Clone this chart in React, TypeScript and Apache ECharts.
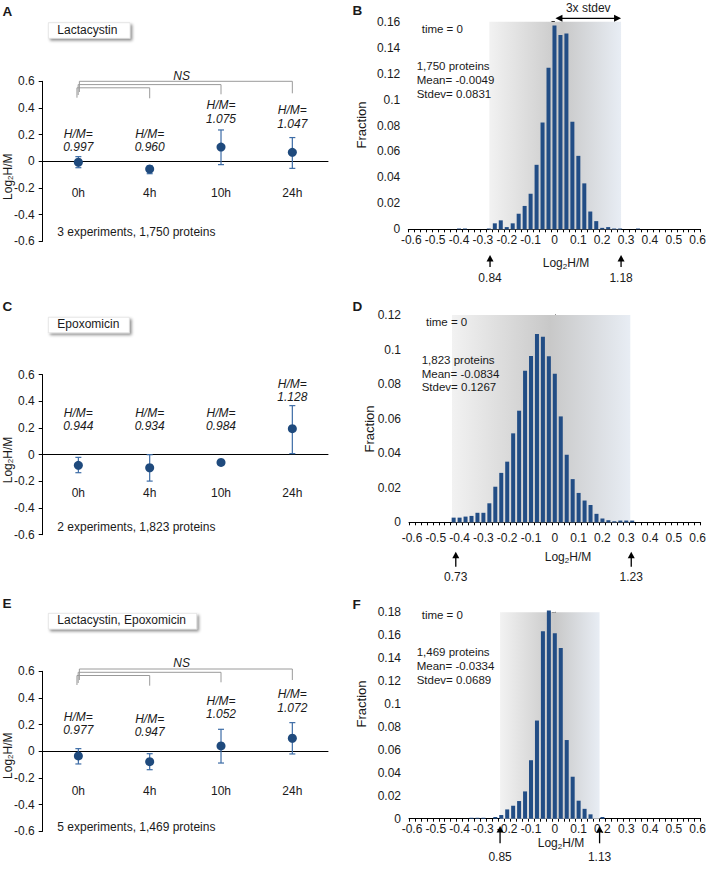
import React, { useEffect, useRef } from "react";
import * as echarts from "echarts";

// ---------- data ----------
const timeCategories = ["0h", "4h", "10h", "24h"];

// Panel A – Lactacystin
const lactMeans = [-0.007, -0.058, 0.107, 0.067];
const lactLow = [-0.048, -0.093, -0.025, -0.053];
const lactHigh = [0.035, -0.033, 0.235, 0.178];
const lactRatios = ["0.997", "0.960", "1.075", "1.047"];

// Panel C – Epoxomicin
const epoxMeans = [-0.08, -0.098, -0.058, 0.195];
const epoxLow = [-0.135, -0.198, -0.066, 0.008];
const epoxHigh = [-0.02, 0.0, -0.05, 0.368];
const epoxRatios = ["0.944", "0.934", "0.984", "1.128"];

// Panel E – Lactacystin, Epoxomicin
const bothMeans = [-0.035, -0.078, 0.04, 0.098];
const bothLow = [-0.095, -0.138, -0.088, -0.02];
const bothHigh = [0.02, -0.018, 0.165, 0.215];
const bothRatios = ["0.977", "0.947", "1.052", "1.072"];

const yTicksLeft = ["-0.6", "-0.4", "-0.2", "0", "0.2", "0.4", "0.6"];

// Histogram bins (Log2 H/M bin centres)
const binLabels = [
  "-0.6", "-0.575", "-0.55", "-0.525", "-0.5", "-0.475", "-0.45", "-0.425",
  "-0.4", "-0.375", "-0.35", "-0.325", "-0.3", "-0.275", "-0.25", "-0.225",
  "-0.2", "-0.175", "-0.15", "-0.125", "-0.1", "-0.075", "-0.05", "-0.025",
  "0",
  "0.025", "0.05", "0.075", "0.1", "0.125", "0.15", "0.175", "0.2",
  "0.225", "0.25", "0.275", "0.3", "0.325", "0.35", "0.375", "0.4",
  "0.425", "0.45", "0.475", "0.5", "0.525", "0.55", "0.575", "0.6",
];

// Panel B
const lactFraction = [
  0, 0, 0, 0, 0, 0, 0, 0,
  0.0006, 0.0006,
  0, 0, 0,
  0.0006,
  0.0046, 0.0069, 0.0017, 0.0046, 0.012, 0.018, 0.0274, 0.0497, 0.0823, 0.1246,
  0.157,
  0.1497, 0.151, 0.0829, 0.0566, 0.0354, 0.0137, 0.0063, 0.0011, 0.0017, 0.0006, 0.0006,
  0, 0,
  0.0006,
  0, 0, 0, 0, 0, 0, 0, 0, 0, 0,
];
// Panel D
const epoxFraction = [
  0, 0, 0, 0, 0, 0, 0,
  0.0027, 0.0027, 0.0033, 0.0037, 0.0055, 0.0055, 0.011, 0.0206, 0.0286, 0.0351,
  0.0515, 0.0646, 0.0878, 0.0963, 0.109, 0.1074, 0.0961, 0.086, 0.0613, 0.0391,
  0.025, 0.017, 0.0126, 0.01, 0.0049, 0.0022, 0.0012, 0.0006, 0.001, 0.001, 0.001,
  0, 0, 0, 0, 0, 0, 0, 0, 0, 0, 0,
];
// Panel F
const bothFraction = [
  0, 0, 0, 0, 0, 0, 0, 0, 0, 0,
  0.0008, 0.0008, 0.0008, 0, 0.0015, 0.0032, 0.0081, 0.0113, 0.0154, 0.0238,
  0.051, 0.0856, 0.1635, 0.1815, 0.1617, 0.1488, 0.0686, 0.0366, 0.0157, 0.0086,
  0.0038, 0, 0.0015,
  0, 0, 0, 0, 0, 0, 0, 0, 0, 0, 0, 0, 0, 0, 0, 0,
];

// mean ± 3 stdev ranges (log2) and their ratio labels
const lactShade = [-0.273, 0.279];
const epoxShade = [-0.432, 0.317];
const bothShade = [-0.23, 0.188];
const lactArrows = [-0.27, 0.279];
const epoxArrows = [-0.416, 0.321];
const bothArrows = [-0.23, 0.188];
const lactArrowLabels = ["0.84", "1.18"];
const epoxArrowLabels = ["0.73", "1.23"];
const bothArrowLabels = ["0.85", "1.13"];
const stdevSpan = [0.004, 0.279];

// ---------- style ----------
const FONT = '"Liberation Sans", Arial, Helvetica, sans-serif';
const TXT = "#1a1a1a";
const BAR = "#224d85";
const ERR = "#3d6ca6";
const DOT = "#1f4a7d";

const leftPanels = [
  { grid: { left: 42.7, top: 81.3, width: 285.3, height: 160 }, means: lactMeans, low: lactLow, high: lactHigh, labelY: 192.7 },
  { grid: { left: 42.7, top: 374.7, width: 285.3, height: 160 }, means: epoxMeans, low: epoxLow, high: epoxHigh, labelY: 492.7 },
  { grid: { left: 42.7, top: 671.3, width: 285.3, height: 160 }, means: bothMeans, low: bothLow, high: bothHigh, labelY: 790.7 },
];

const histPanels = [
  { grid: { left: 408.3, top: 21.7, width: 293.4, height: 207.6 }, data: lactFraction, max: 0.16, shade: lactShade, shadeTop: 0.16, labelMargin: 4.5 },
  { grid: { left: 409, top: 315, width: 292.7, height: 207.3 }, data: epoxFraction, max: 0.12, shade: epoxShade, shadeTop: 0.12, labelMargin: 10 },
  { grid: { left: 409, top: 612.3, width: 292.7, height: 206.4 }, data: bothFraction, max: 0.18, shade: bothShade, shadeTop: 0.182, labelMargin: 4 },
];

const axisText = { fontFamily: FONT, fontSize: 12, color: TXT };

function buildOption() {
  const grid: any[] = [];
  const xAxis: any[] = [];
  const yAxis: any[] = [];
  const series: any[] = [];

  leftPanels.forEach((p, k) => {
    grid.push({ ...p.grid, containLabel: false });
    xAxis.push({
      type: "category",
      gridIndex: k,
      data: timeCategories,
      boundaryGap: true,
      axisLine: { onZero: true, lineStyle: { color: "#000", width: 1 } },
      axisTick: { show: false },
      axisLabel: { show: false },
    });
    yAxis.push({
      type: "value",
      gridIndex: k,
      min: -0.6,
      max: 0.6,
      interval: 0.2,
      axisLine: { show: true, onZero: false, lineStyle: { color: "#000", width: 1 } },
      axisTick: { show: true, length: 4, lineStyle: { color: "#000" } },
      splitLine: { show: false },
      axisLabel: {
        ...axisText,
        margin: 8,
        formatter: (v: number) => yTicksLeft[Math.round((v + 0.6) / 0.2)],
      },
    });
    series.push({
      type: "custom",
      xAxisIndex: k,
      yAxisIndex: k,
      z: 3,
      encode: { x: 0, y: [1, 2] },
      data: p.means.map((_, i) => [i, p.low[i], p.high[i]]),
      renderItem: (params: any, api: any) => {
        const x = api.value(0);
        const top = api.coord([x, api.value(2)]);
        const bot = api.coord([x, api.value(1)]);
        const w = 3;
        const st = { stroke: ERR, lineWidth: 1.2 };
        return {
          type: "group",
          children: [
            { type: "line", shape: { x1: top[0], y1: top[1], x2: bot[0], y2: bot[1] }, style: st },
            { type: "line", shape: { x1: top[0] - w, y1: top[1], x2: top[0] + w, y2: top[1] }, style: st },
            { type: "line", shape: { x1: bot[0] - w, y1: bot[1], x2: bot[0] + w, y2: bot[1] }, style: st },
          ],
        };
      },
    });
    series.push({
      type: "scatter",
      xAxisIndex: k,
      yAxisIndex: k,
      z: 4,
      symbol: "circle",
      symbolSize: 9,
      itemStyle: { color: DOT, opacity: 1 },
      data: p.means.map((m, i) => [i, m]),
    });
  });

  histPanels.forEach((h, j) => {
    const gi = 3 + j;
    grid.push({ ...h.grid, containLabel: false });
    xAxis[gi] = {
      type: "category",
      gridIndex: gi,
      data: binLabels,
      boundaryGap: true,
      axisLine: { lineStyle: { color: "#000", width: 1 } },
      axisTick: { show: true, interval: 0, length: 3, alignWithLabel: false, lineStyle: { color: "#000" } },
      axisLabel: { ...axisText, interval: 3, margin: h.labelMargin },
    };
    xAxis[6 + j] = {
      type: "value",
      gridIndex: gi,
      min: -0.6125,
      max: 0.6125,
      show: false,
    };
    yAxis.push({
      type: "value",
      gridIndex: gi,
      min: 0,
      max: h.max,
      interval: 0.02,
      axisLine: { show: true, lineStyle: { color: "#000", width: 1 } },
      axisTick: { show: true, length: 3, lineStyle: { color: "#000" } },
      splitLine: { show: false },
      axisLabel: {
        ...axisText,
        margin: 8,
        formatter: (v: number) => String(Number(v.toFixed(2))),
      },
    });
    series.push({
      type: "line",
      xAxisIndex: 6 + j,
      yAxisIndex: gi,
      z: 1,
      silent: true,
      symbol: "none",
      lineStyle: { opacity: 0 },
      data: [[0, 0]],
      markArea: {
        silent: true,
        itemStyle: {
          color: new echarts.graphic.LinearGradient(0, 0, 1, 0, [
            { offset: 0, color: "#f2f2f2" },
            { offset: 0.55, color: "#c8c8c8" },
            { offset: 1, color: "#e8edf4" },
          ]),
        },
        data: [[{ xAxis: h.shade[0], yAxis: 0 }, { xAxis: h.shade[1], yAxis: h.shadeTop }]],
      },
    });
    series.push({
      type: "bar",
      xAxisIndex: gi,
      yAxisIndex: gi,
      z: 2,
      barWidth: 4,
      clip: false,
      itemStyle: { color: BAR },
      data: h.data,
    });
  });

  return {
    animation: false,
    backgroundColor: "#fff",
    grid,
    xAxis,
    yAxis,
    series,
  };
}

function txt(x: number, y: number, text: string, extra: any = {}) {
  return {
    type: "text",
    x,
    y,
    silent: true,
    style: {
      text,
      fill: TXT,
      fontFamily: FONT,
      fontSize: 12,
      align: "left",
      verticalAlign: "middle",
      ...extra,
    },
  };
}

function logLabel(x: number, y: number, rotated: boolean) {
  return {
    type: "text",
    x,
    y,
    rotation: rotated ? Math.PI / 2 : 0,
    silent: true,
    style: {
      text: "{a|Log}{b|2}{a|H/M}",
      align: "center",
      verticalAlign: "middle",
      rich: {
        a: { fontFamily: FONT, fontSize: 12, fill: TXT, lineHeight: 14 },
        b: { fontFamily: FONT, fontSize: 8, fill: TXT, lineHeight: 8, verticalAlign: "bottom" },
      },
    },
  };
}

function upArrow(x: number, tipY: number, tailY: number) {
  return [
    { type: "line", silent: true, shape: { x1: x, y1: tipY + 4, x2: x, y2: tailY }, style: { stroke: "#000", lineWidth: 1.3 } },
    { type: "polygon", silent: true, shape: { points: [[x, tipY], [x - 3.5, tipY + 6.5], [x + 3.5, tipY + 6.5]] }, style: { fill: "#000" } },
  ];
}

function box(x: number, y: number, w: number, h: number, label: string) {
  return [
    {
      type: "rect",
      silent: true,
      shape: { x, y, width: w, height: h },
      style: {
        fill: "#fff",
        stroke: "#d6d6d6",
        lineWidth: 0.6,
        shadowBlur: 3,
        shadowOffsetX: 2,
        shadowOffsetY: 2,
        shadowColor: "rgba(0,0,0,0.45)",
      },
    },
    txt(x + 9, y + h / 2 - 1, label),
  ];
}

function bracket(xs: number[], ys: { h: number[]; legR: number[]; legL: number[] }) {
  const st = { stroke: "#9a9a9a", lineWidth: 1, fill: "none" };
  const out: any[] = [];
  const targets = [3, 2, 1];
  targets.forEach((t, n) => {
    const x0 = xs[0] + 1 - n * 1.2;
    out.push({
      type: "polyline",
      silent: true,
      shape: { points: [[x0, ys.legL[n]], [x0, ys.h[n]], [xs[t], ys.h[n]], [xs[t], ys.legR[n]]] },
      style: st,
    });
  });
  return out;
}

function buildGraphics(chart: any) {
  const g: any[] = [];
  const catX = (axis: number, i: number) => chart.convertToPixel({ xAxisIndex: axis }, i) as number;
  const valX = (axis: number, v: number) => chart.convertToPixel({ xAxisIndex: axis }, v) as number;

  // Panel letters
  const bold = { fontWeight: "bold", fontSize: 13.5 };
  g.push(txt(2.5, 11, "A", bold), txt(352.5, 10.5, "B", bold));
  g.push(txt(2.5, 306.5, "C", bold), txt(352.5, 306.5, "D", bold));
  g.push(txt(2.5, 603, "E", bold), txt(352.5, 604.5, "F", bold));

  // ---------- left panels ----------
  g.push(...box(48.3, 22.7, 81.7, 15.6, "Lactacystin"));
  g.push(...box(48.3, 317.2, 81, 15.6, "Epoxomicin"));
  g.push(...box(48.3, 613.3, 148.4, 15.8, "Lactacystin, Epoxomicin"));

  g.push(txt(57.3, 232.3, "3 experiments, 1,750 proteins"));
  g.push(txt(57.3, 527.3, "2 experiments, 1,823 proteins"));
  g.push(txt(57.3, 826.7, "5 experiments, 1,469 proteins"));

  g.push(logLabel(7.5, 176.7, true), logLabel(7.5, 460, true), logLabel(7.5, 755.7, true));

  // category labels under the zero line
  leftPanels.forEach((p, k) => {
    timeCategories.forEach((c, i) => {
      g.push(txt(catX(k, i), p.labelY, c, { align: "center" }));
    });
  });

  const ratioSets = [lactRatios, epoxRatios, bothRatios];
  const ratioY = [
    [140.7, 140.7, 112, 117],
    [419.5, 419.5, 419.5, 390.7],
    [723.3, 725.5, 707.3, 700.8],
  ];
  ratioSets.forEach((rs, k) => {
    rs.forEach((r, i) => {
      g.push(
        txt(catX(k, i), ratioY[k][i], "H/M=\n" + r, {
          align: "center",
          fontStyle: "italic",
          lineHeight: 13.5,
        })
      );
    });
  });

  // NS brackets (A and E)
  const xsA = [0, 1, 2, 3].map((i) => catX(0, i));
  g.push(...bracket(xsA, { h: [81.3, 84.6, 87.8], legR: [93.3, 94.3, 98.3], legL: [92, 95, 97.7] }));
  g.push(txt(181.7, 75.5, "NS", { align: "center", fontStyle: "italic" }));
  const xsE = [0, 1, 2, 3].map((i) => catX(2, i));
  g.push(...bracket(xsE, { h: [669, 672.3, 675.5], legR: [680, 682.3, 685.7], legL: [680, 683, 685] }));
  g.push(txt(181.7, 663, "NS", { align: "center", fontStyle: "italic" }));

  // ---------- histograms ----------
  const stat = { fontSize: 11.5 };
  g.push(txt(421.7, 29.3, "time = 0", stat));
  g.push(txt(416.7, 66, "1,750 proteins", stat), txt(416.7, 80, "Mean= -0.0049", stat), txt(416.7, 94, "Stdev= 0.0831", stat));
  g.push(txt(426, 322.3, "time = 0", stat));
  g.push(txt(421.7, 360, "1,823 proteins", stat), txt(421.7, 373.6, "Mean= -0.0834", stat), txt(421.7, 387.3, "Stdev= 0.1267", stat));
  g.push(txt(421.7, 615, "time = 0", stat));
  g.push(txt(416.7, 651.7, "1,469 proteins", stat), txt(416.7, 666, "Mean= -0.0334", stat), txt(416.7, 680, "Stdev= 0.0689", stat));

  const fr = { align: "center", fontSize: 13 };
  g.push({ ...txt(361.7, 125, "Fraction", fr), rotation: Math.PI / 2 });
  g.push({ ...txt(369, 429, "Fraction", fr), rotation: Math.PI / 2 });
  g.push({ ...txt(361.7, 704, "Fraction", fr), rotation: Math.PI / 2 });

  g.push(logLabel(566, 263.3, false), logLabel(568, 557, false), logLabel(561, 843.3, false));

  const arrowSets = [
    { axis: 6, vals: lactArrows, labels: lactArrowLabels, tip: 255, tail: 267, ly: 278.3 },
    { axis: 7, vals: epoxArrows, labels: epoxArrowLabels, tip: 551.7, tail: 566.7, ly: 576.7 },
    { axis: 8, vals: bothArrows, labels: bothArrowLabels, tip: 826, tail: 843.3, ly: 856.7 },
  ];
  arrowSets.forEach((a) => {
    a.vals.forEach((v, i) => {
      const x = valX(a.axis, v);
      g.push(...upArrow(x, a.tip, a.tail));
      g.push(txt(x, a.ly, a.labels[i], { align: "center" }));
    });
  });

  // 3x stdev double arrow
  const sx0 = valX(6, stdevSpan[0]);
  const sx1 = valX(6, stdevSpan[1]);
  const ay = 18.3;
  g.push({ type: "line", silent: true, shape: { x1: sx0 + 4, y1: ay, x2: sx1 - 4, y2: ay }, style: { stroke: "#000", lineWidth: 1.3 } });
  g.push({ type: "polygon", silent: true, shape: { points: [[sx0, ay], [sx0 + 7, ay - 3.5], [sx0 + 7, ay + 3.5]] }, style: { fill: "#000" } });
  g.push({ type: "polygon", silent: true, shape: { points: [[sx1, ay], [sx1 - 7, ay - 3.5], [sx1 - 7, ay + 3.5]] }, style: { fill: "#000" } });
  g.push(txt((sx0 + sx1) / 2, 7.5, "3x stdev", { align: "center" }));

  g.forEach((e) => {
    e.z = 50;
  });
  return g;
}

export default function App() {
  const ref = useRef<HTMLDivElement>(null);
  useEffect(() => {
    if (!ref.current) return;
    const chart = echarts.init(ref.current, null, { renderer: "svg" });
    chart.setOption(buildOption() as any);
    chart.setOption({ graphic: buildGraphics(chart) } as any);
    return () => chart.dispose();
  }, []);
  return (
    <div
      ref={ref}
      style={{ position: "absolute", left: 0, top: 0, width: 709, height: 879, background: "#fff" }}
    />
  );
}
